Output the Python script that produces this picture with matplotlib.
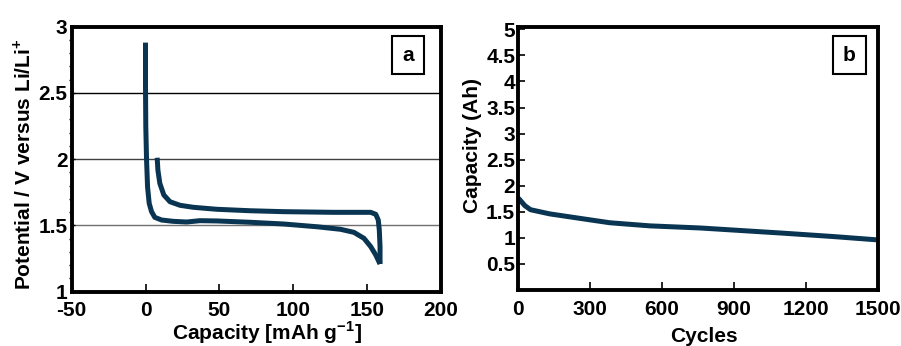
import matplotlib
matplotlib.use("Agg")
import matplotlib.pyplot as plt
from matplotlib.patches import Rectangle
from matplotlib.ticker import MultipleLocator

plt.rcParams["font.family"] = "Liberation Sans"
plt.rcParams["font.weight"] = "bold"
plt.rcParams["mathtext.fontset"] = "custom"
plt.rcParams["mathtext.rm"] = "Liberation Sans:bold"
plt.rcParams["mathtext.bf"] = "Liberation Sans:bold"

# --- (a) first discharge / charge profile ---
dis_cap = [0, 0, 0.2, 0.7, 1.4, 2.5, 4.1, 6.3, 10.9, 18.8, 27.9, 36.9, 48.3,
           70.9, 93.6, 116.3, 132.1, 141.2, 148.0, 152.6, 156.0, 158.9]
dis_v = [2.88, 2.547, 2.245, 2.0, 1.79, 1.667, 1.604, 1.561, 1.541, 1.531, 1.526,
         1.536, 1.534, 1.524, 1.511, 1.49, 1.471, 1.448, 1.403, 1.34, 1.277, 1.209]

chg_cap = [158.9, 158.9, 158.4, 157.7, 156.0, 152.6, 127.6, 93.6, 70.9, 48.3,
           32.4, 23.4, 16.6, 12.4, 9.7, 8.4, 7.9]
chg_v = [1.209, 1.34, 1.466, 1.541, 1.584, 1.599, 1.599, 1.604, 1.611, 1.622,
         1.637, 1.652, 1.679, 1.73, 1.818, 1.918, 2.011]

# --- (b) capacity retention ---
cycles = [4, 28, 52, 132, 271, 382, 549, 757, 896, 1104, 1313, 1500]
capacity_ah = [1.75, 1.62, 1.54, 1.46, 1.365, 1.29, 1.23, 1.19, 1.15, 1.09, 1.025, 0.96]

line_col = "#0a3552"
fs = 15

fig = plt.figure(figsize=(9.01, 3.46), dpi=100)
ax1 = fig.add_axes([71.7 / 901, (346 - 291.7) / 346, 369 / 901, 265 / 346])
ax2 = fig.add_axes([518 / 901, (346 - 290) / 346, 360.3 / 901, 263.3 / 346])

for ax in (ax1, ax2):
    for s in ax.spines.values():
        s.set_linewidth(2.8)
    ax.tick_params(direction="in", width=1.2, labelsize=fs)

# panel a
for yv, c in zip([1.5, 2.0, 2.5], ["#707070", "#404040", "#000000"]):
    ax1.axhline(yv, color=c, lw=1.0, zorder=1)
ax1.plot(dis_cap, dis_v, color=line_col, lw=3.6, solid_capstyle="butt",
         solid_joinstyle="round", zorder=3)
ax1.plot(chg_cap, chg_v, color=line_col, lw=3.6, solid_capstyle="butt",
         solid_joinstyle="round", zorder=3)
ax1.set_xlim(-50, 200)
ax1.set_ylim(1, 3)
ax1.set_xticks([-50, 0, 50, 100, 150, 200])
ax1.set_xticklabels(["-50", "0", "50", "100", "150", "200"])
ax1.set_yticks([1, 1.5, 2, 2.5, 3])
ax1.set_yticklabels(["1", "1.5", "2", "2.5", "3"])
ax1.yaxis.set_minor_locator(MultipleLocator(0.1))
ax1.tick_params(axis="x", length=6, pad=7)
ax1.tick_params(axis="y", which="both", length=2.5, width=1.0, pad=3)
ax1.set_xlabel(r"Capacity [mAh g$^{\mathbf{-1}}$]", fontsize=fs, fontweight="bold")
ax1.set_ylabel(r"Potential / V versus Li/Li$^{\mathbf{+}}$", fontsize=fs,
               fontweight="bold")
ax1.xaxis.set_label_coords(0.53, -0.104)
ax1.yaxis.set_label_coords(-0.1, 0.48)

# panel b
ax2.plot(cycles, capacity_ah, color=line_col, lw=3.6, solid_capstyle="round",
         solid_joinstyle="round")
ax2.set_xlim(0, 1500)
ax2.set_ylim(0, 5.05)
ax2.set_xticks([0, 300, 600, 900, 1200, 1500])
ax2.set_yticks([0.5, 1, 1.5, 2, 2.5, 3, 3.5, 4, 4.5, 5])
ax2.set_yticklabels(["0.5", "1", "1.5", "2", "2.5", "3", "3.5", "4", "4.5", "5"])
ax2.tick_params(axis="x", length=6, pad=7)
ax2.tick_params(axis="y", length=5, pad=2)
ax2.set_xlabel("Cycles", fontsize=fs, fontweight="bold")
ax2.set_ylabel("Capacity (Ah)", fontsize=fs, fontweight="bold")
ax2.xaxis.set_label_coords(0.517, -0.14)
ax2.yaxis.set_label_coords(-0.1, 0.55)

# panel letters
for ax, letter, x0, w, y0, h in [(ax1, "a", 0.869, 0.086, 0.8215, 0.1434),
                                 (ax2, "b", 0.8734, 0.0924, 0.8203, 0.1443)]:
    ax.add_patch(Rectangle((x0, y0), w, h, transform=ax.transAxes, fill=False,
                           ec="black", lw=1.5, zorder=5))
    ax.text(x0 + w / 2, y0 + h / 2, letter, transform=ax.transAxes, ha="center",
            va="center", fontsize=fs, fontweight="bold", zorder=6)

fig.savefig("out.png", dpi=100)
